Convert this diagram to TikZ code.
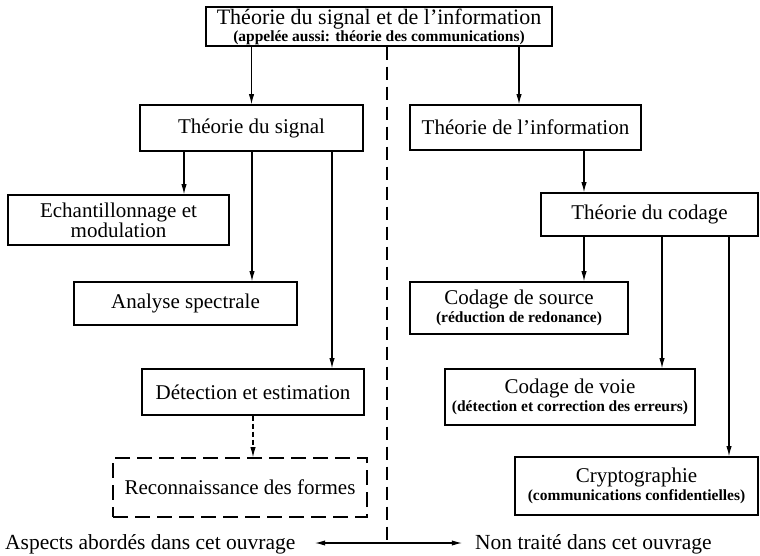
\documentclass[tikz,border=0pt]{standalone}
\usepackage{fontspec}
\setmainfont{Liberation Serif}
\usetikzlibrary{arrows.meta,positioning,calc}
\tikzset{
  tsbox/.style={draw, rectangle, line width=1.4pt, inner sep=1pt, align=center, font=\fontsize{21}{18}\selectfont},
  tsdbox/.style={tsbox, dash pattern=on 15pt off 7pt},
  tsarrow/.style={-{Latex[length=3.6mm, width=1.9mm]}, line width=1.1pt},
  tsdarrow/.style={tsarrow, dash pattern=on 5pt off 3pt},
  tsline/.style={line width=1.1pt, dash pattern=on 13pt off 7pt},
  tslabel/.style={font=\fontsize{21.5}{20}\selectfont, inner sep=0pt},
}
\newcommand{\tsSub}[1]{{\fontsize{15.5}{15}\selectfont\bfseries #1}}

\begin{document}
\begin{tikzpicture}[x=1pt, y=-1pt]
  \useasboundingbox (0,0) rectangle (760,556);

  % boxes
  \node[tsbox, font=\fontsize{22}{18}\selectfont, minimum width=346pt, minimum height=39pt] (top) at (379,26.5) {Théorie du signal et de l'information\\[-1pt]\tsSub{(appelée aussi: théorie des communications)}};
  \node[tsbox, minimum width=223pt, minimum height=46pt] (sig) at (251.5,128) {Théorie du signal};
  \node[tsbox, minimum width=231pt, minimum height=45pt] (info) at (525.5,127.5) {Théorie de l'information};
  \node[tsbox, minimum width=221pt, minimum height=50pt] (ech) at (118.5,220) {Echantillonnage et\\modulation};
  \node[tsbox, minimum width=223pt, minimum height=43pt] (ana) at (185.5,303.5) {Analyse spectrale};
  \node[tsbox, minimum width=222pt, minimum height=46pt] (det) at (253,392) {Détection et estimation};
  \node[tsdbox, minimum width=254pt, minimum height=59pt] (rec) at (240,487.5) {Reconnaissance des formes};
  \node[tsbox, minimum width=217pt, minimum height=43pt] (cod) at (649.5,214.5) {Théorie du codage};
  \node[tsbox, minimum width=218pt, minimum height=52pt] (src) at (519,308) {Codage de source\\\tsSub{(réduction de redonance)}};
  \node[tsbox, minimum width=250pt, minimum height=56pt] (voie) at (570,397) {Codage de voie\\\tsSub{(détection et correction des erreurs)}};
  \node[tsbox, minimum width=243pt, minimum height=58pt] (cry) at (636.5,486) {Cryptographie\\\tsSub{(communications confidentielles)}};

  % columns of the connectors
  \coordinate (xinfo) at (519,0);
  \coordinate (xech) at (184,0);
  \coordinate (xana) at (252,0);
  \coordinate (xdet) at (332,0);
  \coordinate (xsrc) at (584,0);
  \coordinate (xvoie) at (662,0);
  \coordinate (xcry) at (729,0);
  \coordinate (split) at (387,543);
  \coordinate (lefttip) at (315,543);
  \coordinate (righttip) at (462,543);

  \draw[tsarrow] (top.south -| sig.north) -- (sig.north);
  \draw[tsarrow] (top.south -| xinfo) -- (info.north -| xinfo);
  \draw[tsarrow] (sig.south -| xech) -- (ech.north -| xech);
  \draw[tsarrow] (sig.south -| xana) -- (ana.north -| xana);
  \draw[tsarrow] (sig.south -| xdet) -- (det.north -| xdet);
  \draw[tsdarrow] (det.south) -- (rec.north -| det.south);
  \draw[tsarrow] (info.south -| xsrc) -- (cod.north -| xsrc);
  \draw[tsarrow] (cod.south -| xsrc) -- (src.north -| xsrc);
  \draw[tsarrow] (cod.south -| xvoie) -- (voie.north -| xvoie);
  \draw[tsarrow] (cod.south -| xcry) -- (cry.north -| xcry);

  % partage
  \draw[tsline] (top.south -| split) -- (split);
  \node[tslabel, anchor=base west] (aspects) at (5,549) {Aspects abordés dans cet ouvrage};
  \node[tslabel, anchor=base west] (nontr) at (475,549) {Non traité dans cet ouvrage};
  \draw[tsarrow] (split) -- (lefttip);
  \draw[tsarrow] (split) -- (righttip);
\end{tikzpicture}
\end{document}
